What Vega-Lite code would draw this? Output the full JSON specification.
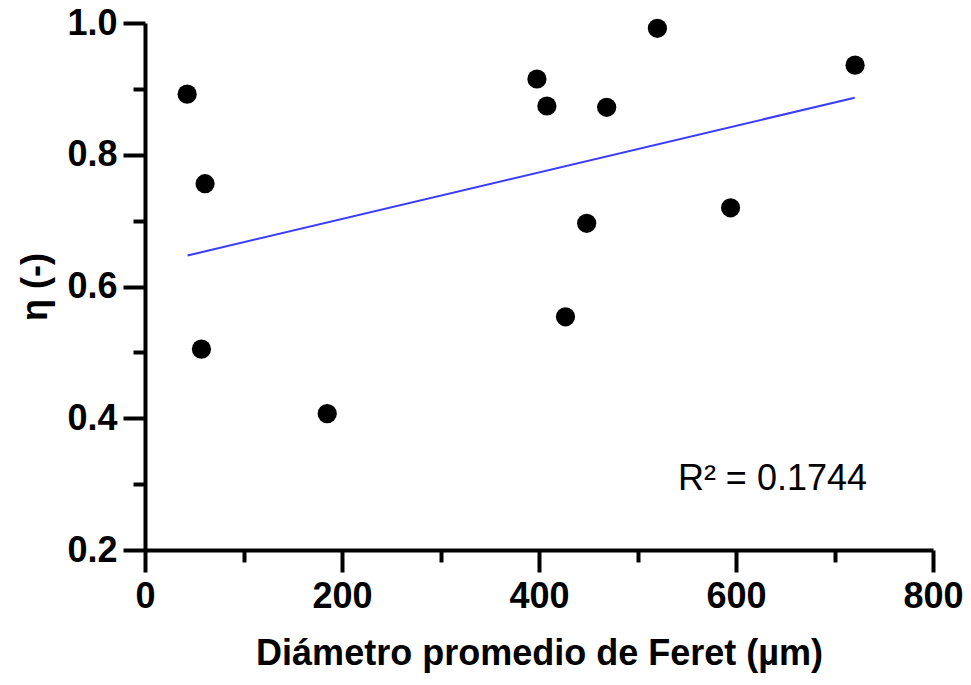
{
  "$schema": "https://vega.github.io/schema/vega-lite/v6.json",
  "width": 788,
  "height": 527,
  "autosize": "none",
  "padding": {"left": 145, "top": 23, "right": 38, "bottom": 135},
  "background": "white",
  "config": {"view": {"stroke": null}, "font": "Liberation Sans"},
  "datasets": {
    "points": [
      {"feret": 42.8, "eta": 0.892},
      {"feret": 61, "eta": 0.756},
      {"feret": 57.3, "eta": 0.505},
      {"feret": 185, "eta": 0.407},
      {"feret": 397.9, "eta": 0.915},
      {"feret": 408, "eta": 0.874},
      {"feret": 426.9, "eta": 0.554},
      {"feret": 448.4, "eta": 0.696},
      {"feret": 468.7, "eta": 0.872},
      {"feret": 520.2, "eta": 0.992},
      {"feret": 594.5, "eta": 0.7195},
      {"feret": 720.9, "eta": 0.936}
    ],
    "fit": [
      {"feret": 43.2, "eta": 0.647},
      {"feret": 720.5, "eta": 0.8866}
    ],
    "note": [
      {"feret": 541, "eta": 0.291, "label": "R² = 0.1744"}
    ]
  },
  "layer": [
    {
      "data": {"name": "fit"},
      "mark": {"type": "line", "color": "#3b3bff", "strokeWidth": 2},
      "encoding": {
        "x": {
          "field": "feret", "type": "quantitative",
          "scale": {"domain": [0, 800], "nice": false, "zero": false},
          "axis": {
            "title": "Diámetro promedio de Feret (µm)",
            "values": [0, 100, 200, 300, 400, 500, 600, 700, 800],
            "labelExpr": "datum.value % 200 === 0 ? datum.label : ''",
            "tickSize": {"condition": {"test": "datum.value % 200 === 0", "value": 22}, "value": 12},
            "tickWidth": 4, "tickColor": "black",
            "domainWidth": 4, "domainColor": "black",
            "grid": false,
            "labelFont": "Liberation Sans", "labelFontWeight": "bold", "labelFontSize": 36, "labelColor": "black",
            "labelPadding": 7, "labelOverlap": false, "labelFlush": false,
            "titleFont": "Liberation Sans", "titleFontWeight": "bold", "titleFontSize": 36, "titleColor": "black",
            "titlePadding": 22
          }
        },
        "y": {
          "field": "eta", "type": "quantitative",
          "scale": {"domain": [0.2, 1.0], "nice": false, "zero": false},
          "axis": {
            "title": "η (-)",
            "values": [0.2, 0.3, 0.4, 0.5, 0.6, 0.7, 0.8, 0.9, 1.0],
            "format": ".1f",
            "labelExpr": "round(datum.value * 10) % 2 === 0 ? datum.label : ''",
            "tickSize": {"condition": {"test": "round(datum.value * 10) % 2 === 0", "value": 22}, "value": 12},
            "tickWidth": 4, "tickColor": "black",
            "domainWidth": 4, "domainColor": "black",
            "grid": false,
            "labelFont": "Liberation Sans", "labelFontWeight": "bold", "labelFontSize": 36, "labelColor": "black",
            "labelPadding": 6, "labelOverlap": false, "labelFlush": false,
            "titleFont": "Liberation Sans", "titleFontWeight": "bold", "titleFontSize": 36, "titleColor": "black",
            "titlePadding": 12
          }
        }
      }
    },
    {
      "data": {"name": "points"},
      "mark": {"type": "circle", "color": "black", "opacity": 1, "size": 370},
      "encoding": {
        "x": {"field": "feret", "type": "quantitative"},
        "y": {"field": "eta", "type": "quantitative"}
      }
    },
    {
      "data": {"name": "note"},
      "mark": {"type": "text", "align": "left", "baseline": "alphabetic", "fontSize": 36, "font": "Liberation Sans", "color": "black"},
      "encoding": {
        "x": {"field": "feret", "type": "quantitative"},
        "y": {"field": "eta", "type": "quantitative"},
        "text": {"field": "label"}
      }
    }
  ]
}
